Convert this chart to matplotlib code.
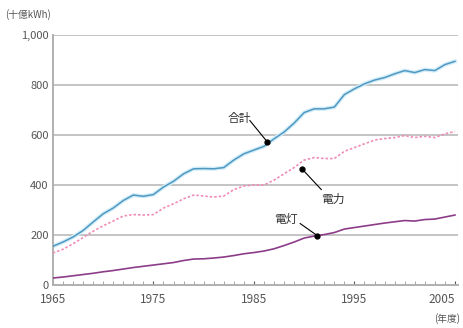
import matplotlib
matplotlib.use("Agg")
import matplotlib.pyplot as plt
import numpy as np

plt.rcParams["font.family"] = ["Noto Sans CJK JP", "DejaVu Sans"]

years = list(range(1965, 2006))

# 合計 (total), 電力 (power), 電灯 (lighting), in 十億kWh
total = [155, 172, 192, 218, 252, 285, 308, 338, 360, 355,
         362, 392, 415, 445, 465, 466, 465, 470, 500, 525,
         540, 555, 585, 612, 648, 690, 705, 705, 712, 762,
         785, 805, 820, 830, 845, 858, 850, 862, 858, 882,
         895]
power = [128, 143, 165, 190, 215, 237, 256, 276, 282, 280,
         282, 308, 325, 345, 360, 356, 352, 356, 382, 396,
         400, 400, 420, 445, 470, 500, 510, 506, 506, 535,
         550, 565, 580, 586, 590, 598, 590, 595, 590, 605,
         614]
lighting = [28, 32, 37, 42, 47, 53, 58, 64, 70, 75,
            80, 85, 90, 98, 104, 105, 108, 112, 118, 125,
            130, 136, 145, 158, 172, 188, 196, 202, 210, 224,
            230, 236, 242, 248, 253, 258, 256, 262, 264, 272,
            280]

yticks = [0, 200, 400, 600, 800, 1000]
ytick_labels = ["0", "200", "400", "600", "800", "1,000"]
xticks = [1965, 1975, 1985, 1995, 2005]

fig = plt.figure(figsize=(4.64, 3.28), dpi=100)
ax = fig.add_axes([0.114, 0.131, 0.873, 0.762])

for y in yticks[1:]:
    ax.axhline(y, color="#c4c4c4", lw=1.4, zorder=1)

ax.plot(years, total, color="#d3eef8", lw=3.0, zorder=2)
ax.plot(years, total, color="#4f98c2", lw=1.1, zorder=3)
ax.plot(years, power, color="#f08cb8", lw=1.2, ls=(0, (1.5, 1.2)), zorder=3)
ax.plot(years, lighting, color="#8c3c88", lw=1.2, zorder=3)

ax.set_xlim(1965, 2005.3)
ax.set_ylim(0, 1000)
ax.set_yticks(yticks)
ax.set_yticklabels(ytick_labels)
ax.set_xticks(xticks)
ax.set_xticks(years, minor=True)
ax.tick_params(axis="y", length=0, labelsize=8, colors="#555555", pad=3)
ax.tick_params(axis="x", which="major", length=3, direction="in", labelsize=8.5,
               colors="#555555", pad=6)
ax.tick_params(axis="x", which="minor", length=3, direction="in", color="#999999")
ax.get_xticklabels()[-1].set_ha("right")
ax.get_xticklabels()[-1].set_x(2005)

for side in ["top", "right"]:
    ax.spines[side].set_visible(False)
ax.spines["left"].set_color("#b0b0b0")
ax.spines["left"].set_linewidth(1.4)
ax.spines["bottom"].set_color("#b0b0b0")
ax.spines["bottom"].set_linewidth(1.4)
ax.axvline(2005.3, color="#e0e0e0", lw=0.8)

# leader lines ending in black dots near each series
x_tot = 1986.3
y_tot = np.interp(x_tot, years, total) + 10
x_pow = 1989.8
y_pow = np.interp(x_pow, years, power) - 30
x_lig = 1991.3
y_lig = np.interp(x_lig, years, lighting)

leaders = [((1984.6, 658), (x_tot, y_tot)),
           ((1991.7, 382), (x_pow, y_pow)),
           ((1989.6, 246), (x_lig, y_lig))]
for (tx, ty), (px, py) in leaders:
    ax.plot([tx, px], [ty, py], color="black", lw=0.8, zorder=4)
    ax.plot(px, py, "o", color="black", ms=3.5, zorder=5)

ax.text(1983.5, 668, "合計", fontsize=8.5, color="#333333", ha="center", va="center")
ax.text(1992.9, 344, "電力", fontsize=8.5, color="#333333", ha="center", va="center")
ax.text(1988.2, 262, "電灯", fontsize=8.5, color="#333333", ha="center", va="center")

fig.text(0.012, 0.955, "(十億kWh)", fontsize=7, color="#555555", ha="left", va="center")
fig.text(0.992, 0.028, "(年度)", fontsize=7, color="#555555", ha="right", va="center")

fig.savefig("out.png", dpi=100)
